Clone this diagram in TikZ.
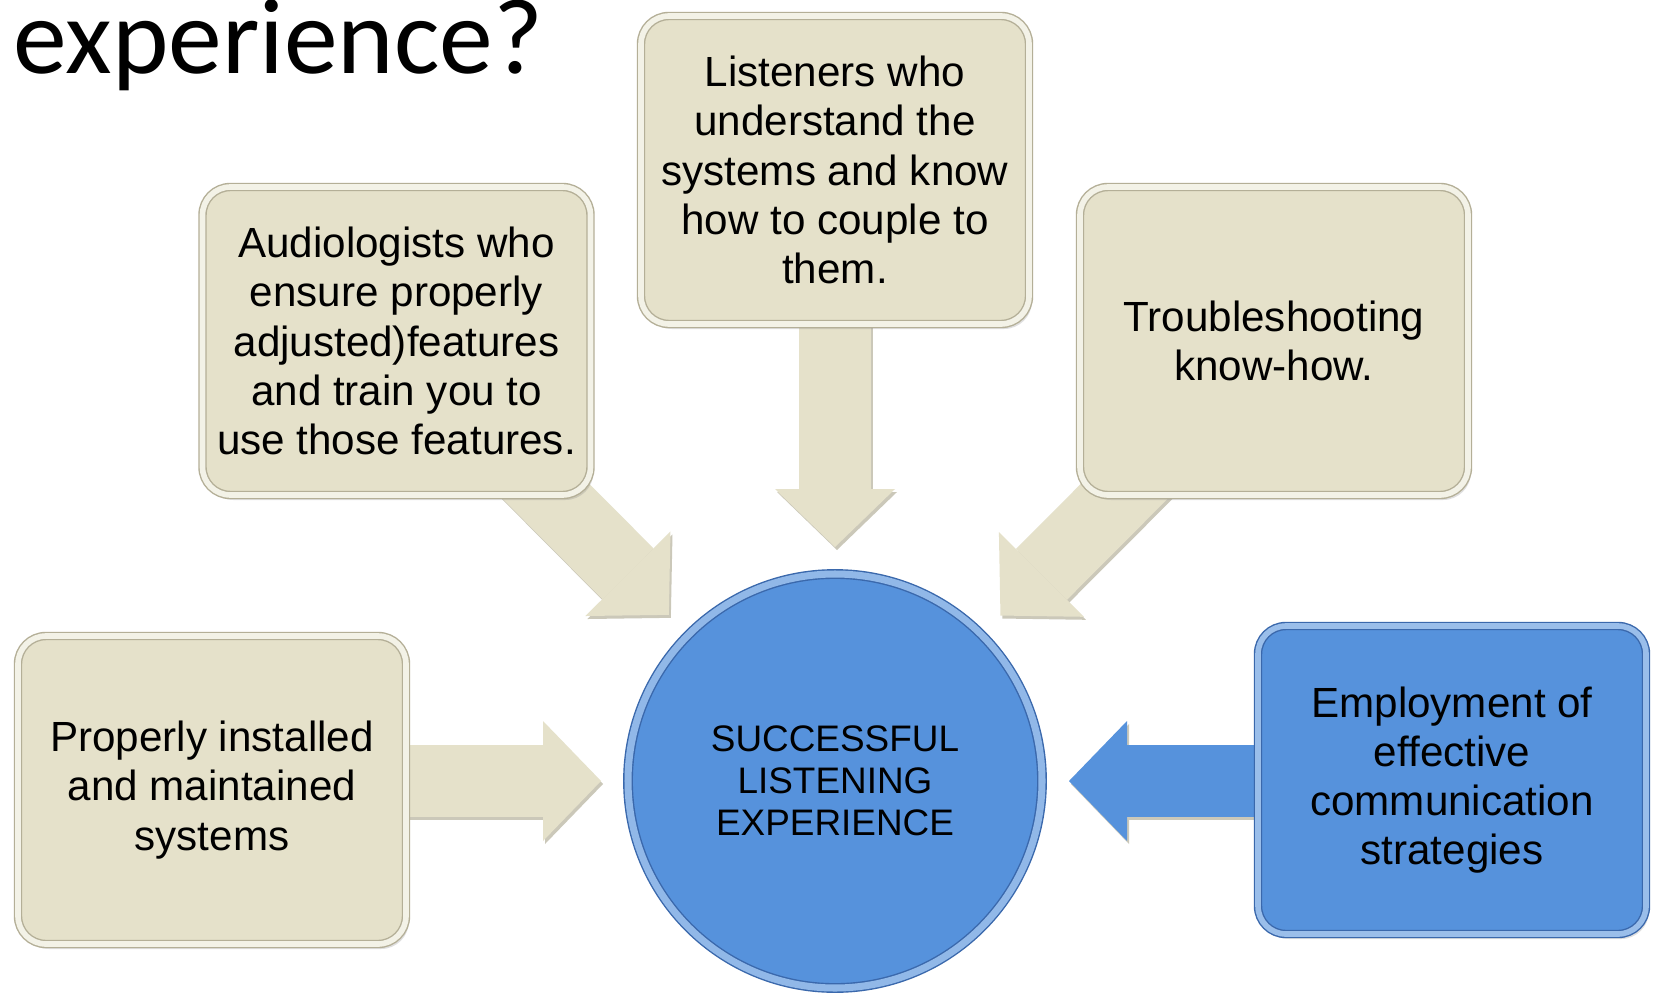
\documentclass[tikz,border=0pt]{standalone}
\usepackage{fontspec}
\usetikzlibrary{arrows.meta, positioning, backgrounds, calc, shadows}
\newfontfamily\titlefont{Carlito}
\newfontfamily\boxfont{Liberation Sans}
\definecolor{beigefill}{RGB}{229,225,202}
\definecolor{beigeedge}{RGB}{168,163,138}
\definecolor{hubblue}{RGB}{86,146,220}
\definecolor{hubedge}{RGB}{58,104,172}

\begin{document}
\begin{tikzpicture}[
  infobox/.style={rounded corners=0.28cm, minimum width=3.88cm, minimum height=3.08cm, inner sep=0pt,
    fill=beigefill, draw=beigeedge!80!beigefill, line width=0.4pt, double=beigefill!45!white, double distance=1.6pt,
    align=center, font=\boxfont\fontsize{12}{14}\selectfont,
    drop shadow={shadow xshift=0.03cm, shadow yshift=-0.05cm, opacity=0.25}},
  bluebox/.style={infobox, fill=hubblue, draw=hubedge, double=hubblue!60!white},
  hubnode/.style={circle, minimum size=4.14cm, inner sep=0pt, fill=hubblue, draw=hubedge, line width=0.4pt,
    double=hubblue!65!white, double distance=2pt, align=center, font=\boxfont\fontsize{10.5}{11.9}\selectfont},
  bigarrow/.style={line width=0.72cm, -{Triangle[width=1.2cm, length=0.58cm, line width=0pt]}}
]
  \useasboundingbox (0,0) rectangle (16.54,9.92);
  \begin{scope}[on background layer]
    \fill[white] (0,0) rectangle (16.54,9.92);
  \end{scope}

  \node[anchor=base west, inner sep=0pt, font=\titlefont\fontsize{30.6}{36}\selectfont] (title) at (0.13,9.19) {experience?};

  % five causes round the centre
  \node[infobox] (lis) at (8.35,8.22) {Listeners who\\understand the\\systems and know\\how to couple to\\them.};
  \node[infobox] (aud) at (3.965,6.51) {Audiologists who\\ensure properly\\adjusted)features\\and train you to\\use those features.};
  \node[infobox] (trb) at (12.74,6.51) {Troubleshooting\\know-how.};
  \node[infobox] (inst) at (2.12,2.02) {Properly installed\\and maintained\\systems};
  \node[bluebox] (emp) at (14.52,2.12) {Employment of\\effective\\communication\\strategies};

  \node[hubnode] (hub) at (8.35,2.11) {SUCCESSFUL\\LISTENING\\EXPERIENCE};

  % arrow tips on a ring round the hub
  \coordinate (tipN) at ($(hub.center)+(90:2.34)$);
  \coordinate (tipNW) at ($(hub.center)+(135:2.35)$);
  \coordinate (tipNE) at ($(hub.center)+(45:2.34)$);
  \coordinate (tipW) at ($(hub.center)+(180:2.34)$);
  \coordinate (tipE) at ($(hub.center)+(0:2.34)$);
  \coordinate (startW) at (inst.center |- tipW);
  \coordinate (startE) at (emp.center |- tipE);

  \begin{scope}[on background layer]
    \foreach \from/\to/\col in {aud.center/tipNW/beigefill, lis.center/tipN/beigefill, trb.center/tipNE/beigefill,
                                startW/tipW/beigefill, startE/tipE/hubblue}
    {
      \draw[bigarrow, draw=beigeedge!60!white, transform canvas={shift={(0.02,-0.03)}}] (\from) -- (\to);
      \draw[bigarrow, draw=\col] (\from) -- (\to);
    }
  \end{scope}
\end{tikzpicture}
\end{document}
